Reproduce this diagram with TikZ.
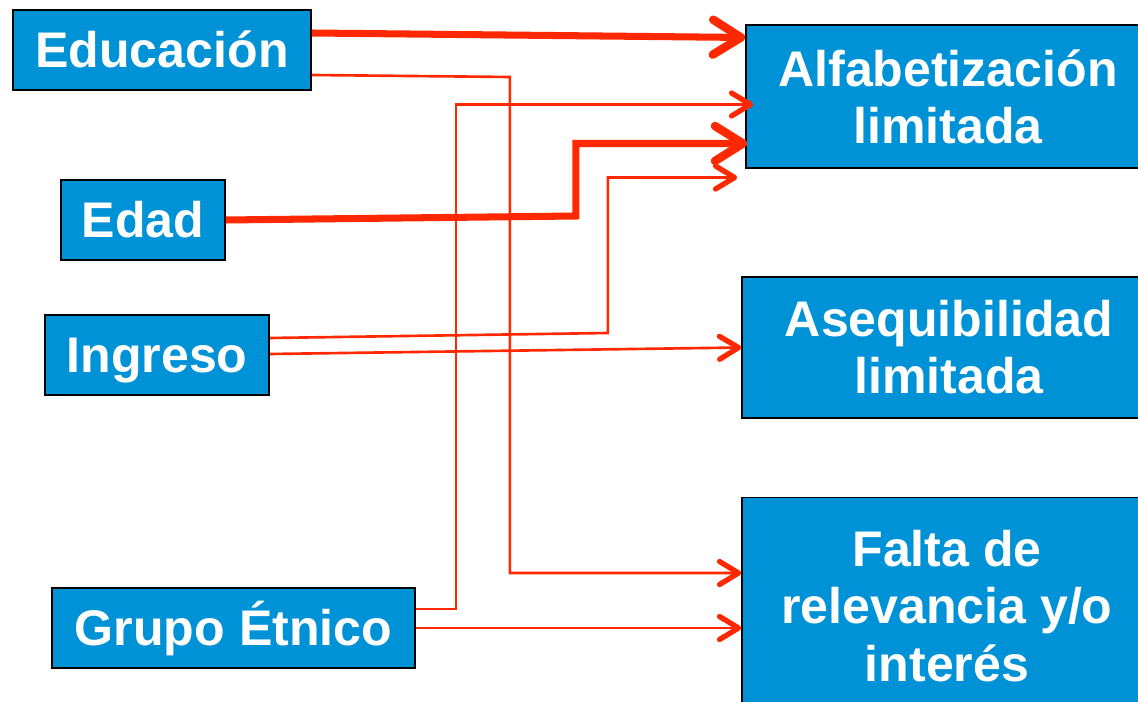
\documentclass[tikz,border=0pt]{standalone}
\usepackage{fontspec}
\setmainfont{Liberation Sans}
\usetikzlibrary{arrows.meta,calc}
\definecolor{boxblue}{RGB}{0,146,214}
\definecolor{arrred}{RGB}{255,40,0}
\begin{document}
\begin{tikzpicture}[x=0.02cm,y=-0.02cm,
  box/.style={draw=black,line width=1pt,fill=boxblue,text=white,
    font=\fontsize{28.5}{32.5}\selectfont\bfseries,align=center,inner sep=0pt},
  causebox/.style={box,minimum height=1.6cm,text height=20.5pt,text depth=1pt},
  thinarr/.style={draw=arrred,line width=1.5pt,
    -{Straight Barb[length=0.38cm,width=0.46cm,line width=3pt,round]}},
  thickarr/.style={draw=arrred,line width=4pt,
    -{Straight Barb[length=0.56cm,width=0.7cm,line width=4.8pt,round]}}]
\useasboundingbox (0,0) rectangle (1138,702);

% causes
\node[causebox,minimum width=5.96cm] (edu) at (162,50) {Educación};
\node[causebox,minimum width=3.28cm] (edad) at (143,220) {Edad};
\node[causebox,minimum width=4.48cm] (ing) at (157,355) {Ingreso};
\node[causebox,minimum width=7.26cm] (grupo) at (233.5,628) {Grupo Étnico};

% barriers
\node[box,minimum width=8.08cm,minimum height=2.86cm] (alfa) at (948,96.5) {Alfabetización\\limitada};
\node[box,minimum width=8.28cm,minimum height=2.82cm] (aseq) at (949,347.5) {Asequibilidad\\limitada};
\node[box,minimum width=8.2cm,minimum height=4.34cm] (falta) at (947,606) {Falta de\\relevancia y/o\\interés};

\coordinate (alfaend) at ($(alfa.west)+(-8,81)$);

\draw[thickarr] ($(edu.east)+(0,-17)$) -- ($(alfa.west)+(0,-59)$);
\draw[thickarr] (edad.east) -- ++(350,-4) |- ($(alfa.west)+(2,47)$);
\draw[thinarr] ($(edu.east)+(0,25)$) -- ++(198,2) |- ($(falta.west)+(0,-33)$);
\draw[thinarr] ($(grupo.east)+(0,-19)$) -- ++(40,0) |- ($(alfa.west)+(8,8)$);
\draw[thinarr] ($(ing.east)+(0,-17)$) -- ++(338,-5) |- (alfaend);
\draw[thinarr] ($(ing.east)+(0,-1)$) -- (aseq.west);
\draw[thinarr] (grupo.east) -- ($(falta.west)+(0,22)$);
\end{tikzpicture}
\end{document}
